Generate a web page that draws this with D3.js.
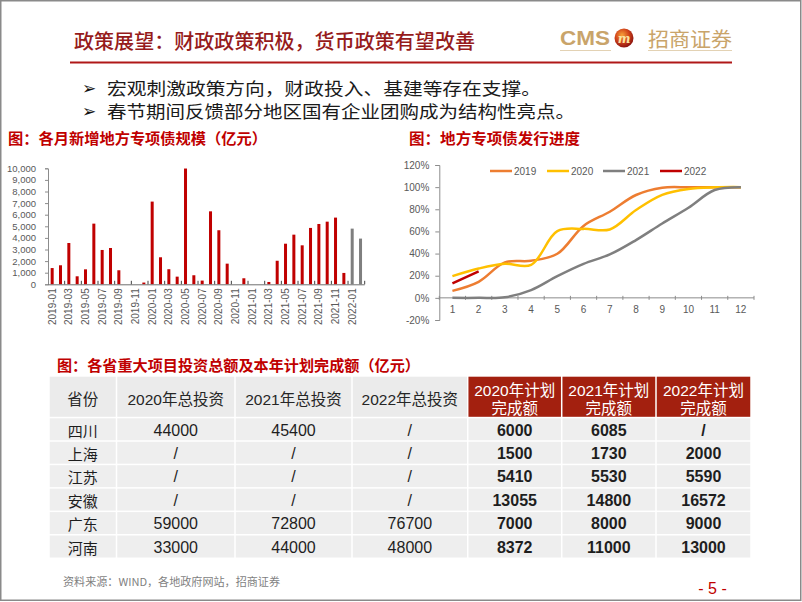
<!DOCTYPE html>
<html><head><meta charset="utf-8">
<script src="https://cdn.jsdelivr.net/npm/d3@7"></script>
<style>
html,body{margin:0;padding:0;background:#fff;}
svg{display:block;}
</style></head>
<body>
<svg id="slide" width="802" height="602"></svg>
<script>
// ---------------- DATA ----------------
const slideTitle = "政策展望：财政政策积极，货币政策有望改善";
const bullets = ["宏观刺激政策方向，财政投入、基建等存在支撑。", "春节期间反馈部分地区国有企业团购成为结构性亮点。"];
const barTitle = "图：各月新增地方专项债规模（亿元）";
const lineTitle = "图：地方专项债发行进度";
const tableTitle = "图：各省重大项目投资总额及本年计划完成额（亿元）";
const sourceNote = "资料来源：WIND，各地政府网站，招商证券";

const months = ["2019-01","2019-02","2019-03","2019-04","2019-05","2019-06","2019-07","2019-08","2019-09","2019-10","2019-11","2019-12",
  "2020-01","2020-02","2020-03","2020-04","2020-05","2020-06","2020-07","2020-08","2020-09","2020-10","2020-11","2020-12",
  "2021-01","2021-02","2021-03","2021-04","2021-05","2021-06","2021-07","2021-08","2021-09","2021-10","2021-11","2021-12",
  "2022-01","2022-02"];
const monthlyIssue = [1400,1640,3560,690,1290,5230,2960,3130,1210,0,0,150,
  7130,2330,1300,660,9980,780,320,6290,4660,1780,0,520,
  0,0,200,2030,3500,4280,3360,4860,5200,5400,5750,980,
  4800,3940];
const barTicks = [0,1000,2000,3000,4000,5000,6000,7000,8000,9000,10000];

const progressMonths = [1,2,3,4,5,6,7,8,9,10,11,12];
const progress2019 = [6.3,14.5,32,33.5,39.8,65,77.8,92.9,99.5,99.9,100,100];
const progress2020 = [19.6,26.5,30.8,29.8,60.2,62.3,61.8,79.3,93,98.3,99.8,100];
const progress2021 = [0,0,0.5,7,19.6,30.7,39.2,52.2,67.2,81.4,97.4,100];
const progress2022 = [13,24];
const seriesNames = ["2019","2020","2021","2022"];
const lineTicks = [-20,0,20,40,60,80,100,120];

const tableHeader = ["省份","2020年总投资","2021年总投资","2022年总投资","2020年计划|完成额","2021年计划|完成额","2022年计划|完成额"];
const provinces = ["四川","上海","江苏","安徽","广东","河南"];
const invest2020 = ["44000","/","/","/","59000","33000"];
const invest2021 = ["45400","/","/","/","72800","44000"];
const invest2022 = ["/","/","/","/","76700","48000"];
const plan2020 = ["6000","1500","5410","13055","7000","8372"];
const plan2021 = ["6085","1730","5530","14800","8000","11000"];
const plan2022 = ["/","2000","5590","16572","9000","13000"];

// ---------------- DRAW ----------------
const svg = d3.select("#slide");
const CJK = "'Noto Sans CJK SC', sans-serif";
const LAT = "'Liberation Sans', Arial, 'Noto Sans CJK SC', sans-serif";
const AXIS = "#595959";

// border
svg.append("rect").attr("x",0.75).attr("y",0.75).attr("width",800).attr("height",599.5)
  .attr("fill","none").attr("stroke","#8a8a8a").attr("stroke-width",1.5);

// title
svg.append("text").attr("x",74).attr("y",40).attr("dominant-baseline","central")
  .attr("font-family",CJK).attr("font-size",20).attr("font-weight",500).attr("fill","#961b1b")
  .attr("textLength",401).attr("lengthAdjust","spacingAndGlyphs").text(slideTitle);

// logo
const gold = "#c9a46a";
svg.append("text").attr("x",560).attr("y",38).attr("dominant-baseline","central")
  .attr("font-family",LAT).attr("font-size",20).attr("font-weight","bold").attr("fill",gold)
  .attr("textLength",50).attr("lengthAdjust","spacingAndGlyphs").text("CMS");
svg.append("line").attr("x1",560).attr("x2",611).attr("y1",50.5).attr("y2",50.5).attr("stroke","#e3d2b4").attr("stroke-width",1);
const defs = svg.append("defs");
const rg = defs.append("radialGradient").attr("id","ball").attr("cx","40%").attr("cy","35%").attr("r","65%");
rg.append("stop").attr("offset","0%").attr("stop-color","#f7a23a");
rg.append("stop").attr("offset","55%").attr("stop-color","#d2451b");
rg.append("stop").attr("offset","100%").attr("stop-color","#8e1510");
svg.append("circle").attr("cx",624).attr("cy",38).attr("r",9.5).attr("fill","url(#ball)");
svg.append("text").attr("x",624).attr("y",38.5).attr("dominant-baseline","central").attr("text-anchor","middle")
  .attr("font-family","'DejaVu Serif', serif").attr("font-style","italic").attr("font-weight","bold")
  .attr("font-size",12).attr("fill","#fbe3a0").text("m");
svg.append("text").attr("x",648).attr("y",38).attr("dominant-baseline","central")
  .attr("font-family",CJK).attr("font-size",20).attr("fill",gold)
  .attr("textLength",84).attr("lengthAdjust","spacingAndGlyphs").text("招商证券");
svg.append("line").attr("x1",648).attr("x2",732).attr("y1",50.5).attr("y2",50.5).attr("stroke","#e3d2b4").attr("stroke-width",1);

// red rule
svg.append("line").attr("x1",70).attr("x2",732).attr("y1",62.5).attr("y2",62.5).attr("stroke","#b01818").attr("stroke-width",2);

// bullets
const bulletWidths = [434, 468];
bullets.forEach((b,i)=>{
  const y = 87 + i*23;
  svg.append("text").attr("x",82).attr("y",y+0.5).attr("dominant-baseline","central")
    .attr("font-family","'DejaVu Sans', sans-serif").attr("font-size",17).attr("font-weight","bold").attr("fill","#111").text("➢");
  svg.append("text").attr("x",107).attr("y",y).attr("dominant-baseline","central")
    .attr("font-family",CJK).attr("font-size",17.5).attr("fill","#1a1a1a")
    .attr("textLength",bulletWidths[i]).attr("lengthAdjust","spacingAndGlyphs").text(b);
});

// chart titles
function redTitle(t,x,y,w){
  svg.append("text").attr("x",x).attr("y",y).attr("dominant-baseline","central")
    .attr("font-family",CJK).attr("font-size",15).attr("font-weight","bold").attr("fill","#c00000")
    .attr("textLength",w).attr("lengthAdjust","spacingAndGlyphs").text(t);
}
redTitle(barTitle,8,137,259);
redTitle(lineTitle,409,137.5,171);
redTitle(tableTitle,57,364.5,363);

// ---------- bar chart ----------
{
  const x = d3.scaleBand().domain(months).range([48,364.7]).paddingInner(0.64).paddingOuter(0.32);
  const y = d3.scaleLinear().domain([0,10000]).range([284.3,168.3]);
  const g = svg.append("g");
  g.selectAll("rect.bar").data(months).join("rect").attr("class","bar")
    .attr("x",d=>x(d)).attr("width",x.bandwidth())
    .attr("y",(d,i)=>y(monthlyIssue[i])).attr("height",(d,i)=>y(0)-y(monthlyIssue[i]))
    .attr("fill",d=>d.startsWith("2022")?"#7f7f7f":"#c00000");
  // y axis
  const ya = g.append("g").attr("transform","translate(48,0)")
    .call(d3.axisLeft(y).tickValues(barTicks).tickFormat(d3.format(",")).tickSize(3).tickPadding(9));
  ya.select(".domain").attr("stroke","#8c8c8c");
  ya.selectAll(".tick line").attr("stroke","#8c8c8c");
  ya.selectAll("text").attr("font-family",LAT).attr("font-size",9.5).attr("fill",AXIS);
  // x axis
  const step = x.step();
  g.append("line").attr("x1",48).attr("x2",364.7).attr("y1",y(0)+0.5).attr("y2",y(0)+0.5).attr("stroke","#6e6e6e");
  months.forEach((m,i)=>{
    if(i%2===1){
      const bx = 48 + (i+1)*step;
      g.append("line").attr("x1",bx).attr("x2",bx).attr("y1",y(0)).attr("y2",y(0)-3.5).attr("stroke","#404040").attr("stroke-width",1);
    }
    if(i%2===0){
      g.append("text").attr("transform",`translate(${x(m)+x.bandwidth()/2},${y(0)+4}) rotate(-90)`)
        .attr("text-anchor","end").attr("dy","0.35em")
        .attr("font-family",LAT).attr("font-size",10).attr("fill",AXIS).text(m);
    }
  });
}

// ---------- line chart ----------
{
  const x = d3.scaleBand().domain(progressMonths).range([439.3,754]);
  const y = d3.scaleLinear().domain([-20,120]).range([320,165]);
  const g = svg.append("g");
  const ya = g.append("g").attr("transform","translate(439.3,0)")
    .call(d3.axisLeft(y).tickValues(lineTicks).tickFormat(d=>d+"%").tickSize(4).tickPadding(6));
  ya.select(".domain").attr("stroke","#8c8c8c");
  ya.selectAll(".tick line").attr("stroke","#8c8c8c");
  ya.selectAll("text").attr("font-family",LAT).attr("font-size",10).attr("fill",AXIS);
  // x axis at 0
  g.append("line").attr("x1",439.3).attr("x2",754).attr("y1",y(0)).attr("y2",y(0)).attr("stroke","#8c8c8c");
  for(let i=0;i<=progressMonths.length;i++){
    const bx = 439.3 + i*x.step();
    g.append("line").attr("x1",bx).attr("x2",bx).attr("y1",y(0)-2).attr("y2",y(0)+2).attr("stroke","#8c8c8c");
  }
  progressMonths.forEach(m=>{
    g.append("text").attr("x",x(m)+x.bandwidth()/2).attr("y",309.5).attr("dominant-baseline","central")
      .attr("text-anchor","middle").attr("font-family",LAT).attr("font-size",10).attr("fill",AXIS).text(m);
  });
  const colors = ["#ed7d31","#ffc000","#7f7f7f","#c00000"];
  const series = [progress2019,progress2020,progress2021,progress2022];
  const line = d3.line().x((d,i)=>x(progressMonths[i])+x.bandwidth()/2).y(d=>y(d)).curve(d3.curveCatmullRom.alpha(0.5));
  series.forEach((s,k)=>{
    g.append("path").attr("d",line(s)).attr("fill","none").attr("stroke",colors[k]).attr("stroke-width",2.5);
  });
  // legend
  const lx = [490,547,603,660];
  seriesNames.forEach((n,k)=>{
    g.append("line").attr("x1",lx[k]).attr("x2",lx[k]+22).attr("y1",171).attr("y2",171).attr("stroke",colors[k]).attr("stroke-width",2.5);
    g.append("text").attr("x",lx[k]+24).attr("y",171).attr("dominant-baseline","central")
      .attr("font-family",LAT).attr("font-size",10).attr("fill",AXIS).text(n);
  });
}

// ---------- table ----------
{
  const colEdges = [49,116.5,235,352,467.7,561.7,656,751];
  const headTop = 376.7, headBottom = 418.3, rowH = 23.45;
  const g = svg.append("g");
  const columns = [provinces,invest2020,invest2021,invest2022,plan2020,plan2021,plan2022];
  // header
  tableHeader.forEach((h,c)=>{
    const x0 = colEdges[c], x1 = colEdges[c+1];
    const red = c>=4;
    g.append("rect").attr("x",x0+0.75).attr("y",headTop).attr("width",x1-x0-1.5).attr("height",headBottom-headTop-1.5)
      .attr("fill",red?"#a3200f":"#ebebeb");
    const cx = (x0+x1)/2;
    const parts = h.split("|");
    if(parts.length===1){
      g.append("text").attr("x",cx).attr("y",399).attr("text-anchor","middle").attr("dominant-baseline","central")
        .attr("font-family",LAT).attr("font-size",15.5).attr("fill","#262626").text(parts[0]);
    } else {
      parts.forEach((p,j)=>{
        g.append("text").attr("x",cx).attr("y",390+j*18.5).attr("text-anchor","middle").attr("dominant-baseline","central")
          .attr("font-family",LAT).attr("font-size",15.5).attr("fill","#ffffff").text(p);
      });
    }
  });
  // body
  provinces.forEach((p,r)=>{
    const y0 = headBottom + r*rowH;
    columns.forEach((col,c)=>{
      const x0 = colEdges[c], x1 = colEdges[c+1];
      g.append("rect").attr("x",x0+0.75).attr("y",y0).attr("width",x1-x0-1.5).attr("height",rowH-1.5)
        .attr("fill","#eeeeee");
      g.append("text").attr("x",(x0+x1)/2).attr("y",y0+rowH/2).attr("text-anchor","middle").attr("dominant-baseline","central")
        .attr("font-family",c===0?CJK:LAT).attr("font-size",c===0?15:16)
        .attr("font-weight",c>=4?"bold":"normal").attr("fill","#1e1e1e").text(col[r]);
    });
  });
}

// source + page
svg.append("text").attr("x",63).attr("y",580.5).attr("dominant-baseline","central")
  .attr("font-family",CJK).attr("font-size",11).attr("fill","#7f7f7f")
  .attr("textLength",217).attr("lengthAdjust","spacingAndGlyphs").text(sourceNote);
svg.append("text").attr("x",712.5).attr("y",588).attr("dominant-baseline","central").attr("text-anchor","middle")
  .attr("font-family",LAT).attr("font-size",16).attr("fill","#c00000").text("- 5 -");
</script>
</body></html>
